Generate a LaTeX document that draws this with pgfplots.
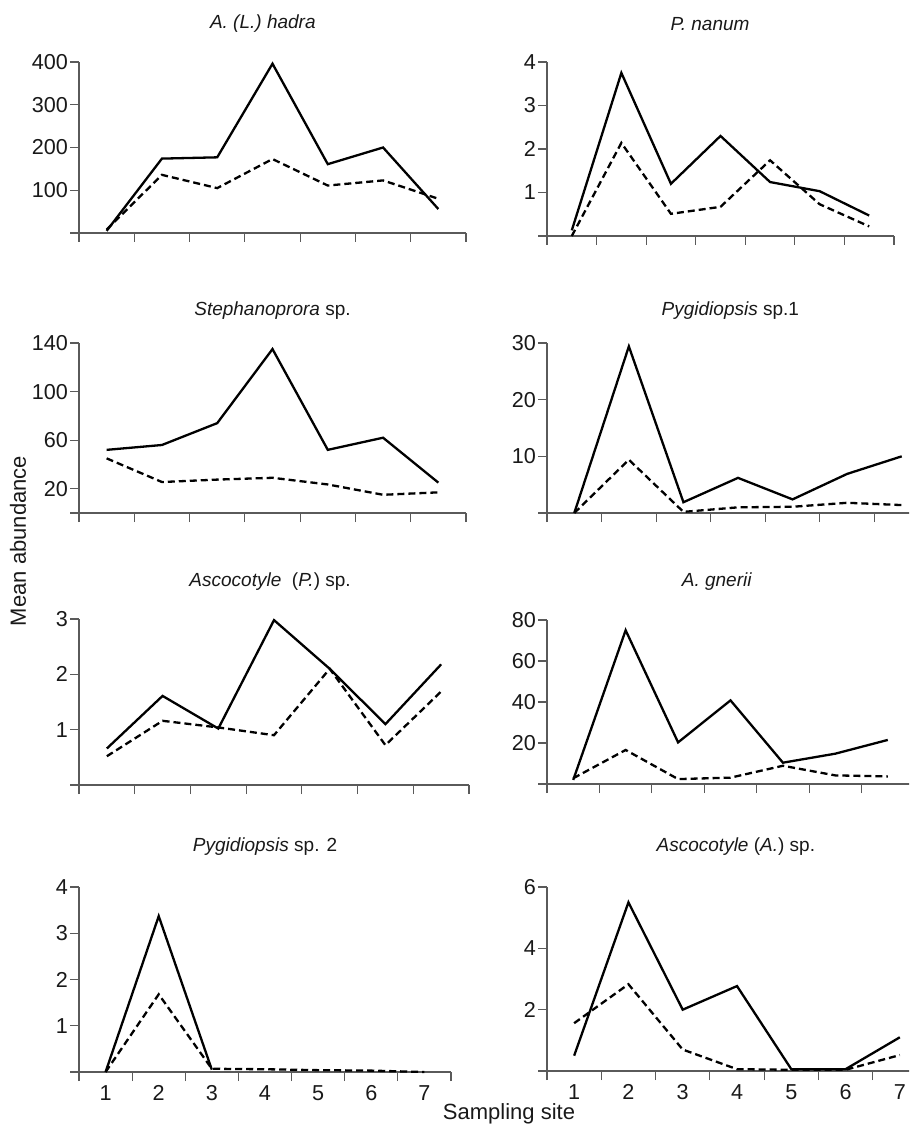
\documentclass[border=0pt]{standalone}
\usepackage{fontspec}
\setmainfont{Liberation Sans}
\usepackage{pgfplots}
\pgfplotsset{compat=1.18}
\definecolor{axgray}{RGB}{90,90,90}
\pgfplotsset{
  panel/.style={
    scale only axis,
    anchor=south west,
    xmin=0.5, xmax=7.5, ymin=0,
    axis x line=bottom, axis y line=left,
    axis line style={-, draw=axgray, line width=0.55pt},
    every tick/.style={draw=axgray, line width=0.55pt},
    tick align=outside,
    major tick length=4.5pt,
    xtick={0.5,1.5,2.5,3.5,4.5,5.5,6.5,7.5},
    xticklabels={},
    x tick label as interval,
    tick label style={font=\fontsize{10.8}{12}\selectfont, text=black!90},
    yticklabel style={xshift=2.5pt},
    xticklabel style={yshift=2pt, text height=1.6ex, text depth=0pt},
    /pgf/number format/assume math mode=true,
    every axis title shift/.style={},
    title style={font=\fontsize{9.5}{11}\selectfont, anchor=center, text=black!90},
    clip=false,
    every axis plot/.append style={line width=1.15pt, black},
  },
  bottomrow/.style={xticklabels={1,2,3,4,5,6,7}},
  sol/.style={black, solid},
  das/.style={black, dash pattern=on 3.5pt off 2pt},
}
\begin{document}
\begin{tikzpicture}
\useasboundingbox (0,0) rectangle (454.5pt,-563.5pt);
\clip (0,0) rectangle (454.5pt,-563.5pt);

% Panel 1
\begin{axis}[panel, at={(39.5pt,-116.5pt)}, width=193.5pt, height=85.5pt,
  ymax=400, ytick={0,100,200,300,400}, yticklabels={,100,200,300,400},
  title={\textit{A. (L.) hadra}},
  title style={at={(axis description cs:0.475,1)}, yshift=13pt}]
\addplot[sol] coordinates {(1,5)(2,174)(3,177)(4,396)(5,161)(6,200)(7,56)};
\addplot[das] coordinates {(1,8)(2,136)(3,105)(4,173)(5,111)(6,123)(7,80)};
\end{axis}

% Panel 2
\begin{axis}[panel, at={(273.5pt,-118pt)}, width=173.5pt, height=87pt,
  ymax=4, ytick={0,1,2,3,4}, yticklabels={,1,2,3,4},
  title={\textit{P. nanum}},
  title style={at={(axis description cs:0.47,1)}, yshift=13pt}]
\addplot[sol] coordinates {(1,0.13)(2,3.75)(3,1.2)(4,2.3)(5,1.24)(6,1.03)(7,0.47)};
\addplot[das] coordinates {(1,0)(2,2.14)(3,0.51)(4,0.67)(5,1.74)(6,0.73)(7,0.22)};
\end{axis}

% Panel 3
\begin{axis}[panel, at={(39.5pt,-256.5pt)}, width=193.5pt, height=85pt,
  ymax=140, ytick={0,20,60,100,140}, yticklabels={,20,60,100,140},
  title={\textit{Stephanoprora} sp.},
  title style={at={(axis description cs:0.5,1)}, yshift=10pt}]
\addplot[sol] coordinates {(1,52)(2,56)(3,74)(4,135)(5,52)(6,62)(7,25)};
\addplot[das] coordinates {(1,45)(2,25.5)(3,27.5)(4,29)(5,23.5)(6,15)(7,17)};
\end{axis}

% Panel 4
\begin{axis}[panel, at={(273.5pt,-256.5pt)}, width=191pt, height=85pt,
  ymax=30, ytick={0,10,20,30}, yticklabels={,10,20,30},
  title={\textit{Pygidiopsis} sp.1},
  title style={at={(axis description cs:0.48,1)}, yshift=10pt}]
\addplot[sol] coordinates {(1,0)(2,29.4)(3,1.9)(4,6.2)(5,2.4)(6,6.9)(7,10)};
\addplot[das] coordinates {(1,0)(2,9.4)(3,0.2)(4,1.0)(5,1.1)(6,1.8)(7,1.4)};
\end{axis}

% Panel 5
\begin{axis}[panel, at={(39.5pt,-392.5pt)}, width=195pt, height=83pt,
  ymax=3, ytick={0,1,2,3}, yticklabels={,1,2,3},
  title={\textit{Ascocotyle}\ \ (\textit{P.}) sp.},
  title style={at={(axis description cs:0.49,1)}, yshift=12.5pt}]
\addplot[sol] coordinates {(1,0.66)(2,1.61)(3,1.02)(4,2.98)(5,2.1)(6,1.1)(7,2.18)};
\addplot[das] coordinates {(1,0.52)(2,1.16)(3,1.04)(4,0.9)(5,2.1)(6,0.72)(7,1.69)};
\end{axis}

% Panel 6
\begin{axis}[panel, at={(273.5pt,-392pt)}, width=183.5pt, height=82pt,
  ymax=80, ytick={0,20,40,60,80}, yticklabels={,20,40,60,80},
  title={\textit{A. gnerii}},
  title style={at={(axis description cs:0.463,1)}, yshift=13pt}]
\addplot[sol] coordinates {(1,2)(2,75)(3,20.3)(4,40.8)(5,10.4)(6,14.8)(7,21.5)};
\addplot[das] coordinates {(1,2.8)(2,16.6)(3,2.4)(4,3.1)(5,8.9)(6,4.2)(7,3.7)};
\end{axis}

% Panel 7
\begin{axis}[panel, bottomrow, at={(39.5pt,-536pt)}, width=186pt, height=92.5pt,
  ymax=4, ytick={0,1,2,3,4}, yticklabels={,1,2,3,4},
  title={\textit{Pygidiopsis} sp. 2},
  title style={at={(axis description cs:0.5,1)}, yshift=14pt}]
\addplot[sol] coordinates {(1,0)(2,3.37)(3,0.05)};
\addplot[das] coordinates {(1,0)(2,1.68)(3,0.07)(4,0.06)(5,0.04)(6,0.03)(7,0)};
\end{axis}

% Panel 8
\begin{axis}[panel, bottomrow, at={(273.5pt,-535.5pt)}, width=190pt, height=92pt,
  ymax=6, ytick={0,2,4,6}, yticklabels={,2,4,6},
  title={\textit{Ascocotyle} (\textit{A.}) sp.},
  title style={at={(axis description cs:0.497,1)}, yshift=14pt}]
\addplot[sol] coordinates {(1,0.5)(2,5.5)(3,2.0)(4,2.77)(5,0.06)(6,0.06)(7,1.1)};
\addplot[das] coordinates {(1,1.56)(2,2.83)(3,0.7)(4,0.06)(5,0.04)(6,0.04)(7,0.52)};
\end{axis}

\node[rotate=90, font=\fontsize{11}{13}\selectfont, text=black!90] at (9pt,-270.5pt) {Mean abundance};
\node[font=\fontsize{11}{13}\selectfont, text=black!90] at (254.5pt,-557pt) {Sampling site};
\end{tikzpicture}
\end{document}
